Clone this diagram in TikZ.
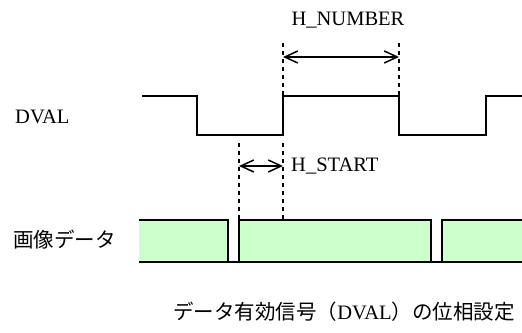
\documentclass[tikz,border=0pt]{standalone}
\usepackage{fontspec}
\setmainfont{Liberation Serif}
\newfontfamily\jpfont{Noto Sans CJK JP}
\usetikzlibrary{arrows.meta}
\definecolor{datagreen}{HTML}{CCFFCC}
\tikzset{
    wave/.style={line width=1.9pt},
    guide/.style={line width=1.4pt, dash pattern=on 4pt off 4pt},
    span/.style={line width=1.5pt, {Straight Barb[length=13pt,width=12pt]}-{Straight Barb[length=13pt,width=12pt]}},
    lbl/.style={font=\fontsize{20.5}{24}\selectfont, inner sep=0pt}
}
\begin{document}
\begin{tikzpicture}[x=1pt,y=-1pt]
                \useasboundingbox (0,0) rectangle (522,332);
                % DVAL waveform
                \draw[wave] (142,96) -- (197,96) -- (197,135) -- (283,135) -- (283,96)
                    -- (399,96) -- (399,135) -- (486,135) -- (486,96) -- (522,96);
                % image data blocks
                \fill[datagreen] (139,220) rectangle (228,262);
                \fill[datagreen] (239,220) rectangle (431,262);
                \fill[datagreen] (442,220) rectangle (522,262);
                \draw[wave] (139,220) -- (228,220) -- (228,262);
                \draw[wave] (239,262) -- (239,220) -- (431,220) -- (431,262);
                \draw[wave] (442,262) -- (442,220) -- (522,220);
                \draw[wave] (139,262) -- (522,262);
                % guide lines
                \foreach \x in {283, 399}{
                    \draw[guide] (\x,43) -- (\x,96);
                }
                \foreach \x in {239, 283}{
                    \draw[guide] (\x,143) -- (\x,220);
                }
                \coordinate (numA) at (283,57);
                \coordinate (numB) at (399,57);
                \coordinate (startA) at (239,166);
                \coordinate (startB) at (283,166);
                \draw[span] (numA) -- (numB);
                \draw[span] (startA) -- (startB);
                % labels
                \node[lbl] (hnumber) at (348,20) {H\_NUMBER};
                \node[lbl, anchor=west] (hstart) at (291,166) {H\_START};
                \node[lbl, anchor=west] (dval) at (15,117) {DVAL};
                \node[lbl, anchor=west] (imgdata) at (13,240) {\jpfont 画像データ};
                \node[lbl] (caption) at (344,312) {{\jpfont データ有効信号（}DVAL{\jpfont ）の位相設定}};
            \end{tikzpicture}
\end{document}
